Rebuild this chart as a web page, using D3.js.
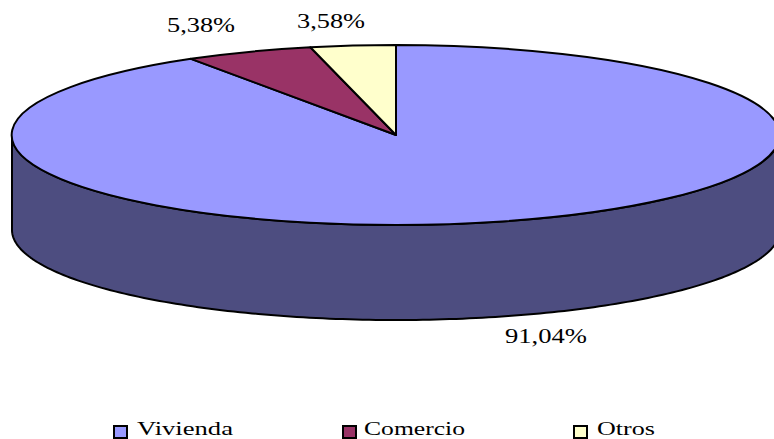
<!DOCTYPE html>
<html><head><meta charset="utf-8">
<script src="https://cdnjs.cloudflare.com/ajax/libs/d3/7.8.5/d3.min.js"></script>
<style>html,body{margin:0;padding:0;background:#fff}svg{display:block}
text{font-family:"Liberation Serif",serif;font-size:20px;fill:#000}
text.t{font-size:19px}</style></head>
<body><svg id="c" width="774" height="439"></svg>
<script>
const categories=["Vivienda","Comercio","Otros"];
const values=[91.04,5.38,3.58];
const valueLabels=["91,04%","5,38%","3,58%"];
const colors=["#9999ff","#993366","#ffffcc"];
const sideColor="#4d4d80";

const cx=396,cy=135,rx=384,ry=90,depth=95;
const svg=d3.select("#c");
const pie=d3.pie().sort(null).value(d=>d)(values);
const unit=d3.arc().innerRadius(0).outerRadius(1);
const x=t=>cx+rx*Math.sin(t), y=t=>cy-ry*Math.cos(t);

// front wall of the cylinder: visible half of the rim, extruded downwards
const front=d3.range(90,270.01,1).map(d=>d*Math.PI/180);
const wall=d3.area().x(x).y0(y).y1(t=>y(t)+depth);
svg.append("path").attr("d",wall(front)).attr("fill",sideColor)
  .attr("stroke","#000").attr("stroke-width",2).attr("stroke-linejoin","round");

// top face
const topFace=svg.append("g").attr("transform",`translate(${cx},${cy}) scale(${rx},${ry})`);
topFace.selectAll("path").data(pie).join("path")
  .attr("d",unit).attr("fill",(d,i)=>colors[i])
  .attr("stroke","#000").attr("stroke-width",2).attr("stroke-linejoin","round")
  .attr("vector-effect","non-scaling-stroke");

// data labels
const labelPos=[[505,343,82],[167,32,68],[297,28,68]];
svg.selectAll("text.v").data(valueLabels).join("text").attr("class","v")
  .attr("x",(d,i)=>labelPos[i][0]).attr("y",(d,i)=>labelPos[i][1])
  .attr("textLength",(d,i)=>labelPos[i][2]).attr("lengthAdjust","spacingAndGlyphs")
  .text(d=>d);

// legend
const legendX=[114,343,574],legendTextX=[137,364,597],legendTextW=[96,101,58];
const lg=svg.selectAll("g.l").data(categories).join("g").attr("class","l");
lg.append("rect").attr("x",(d,i)=>legendX[i]).attr("y",426).attr("width",13).attr("height",12)
  .attr("fill",(d,i)=>colors[i]).attr("stroke","#000").attr("stroke-width",2);
lg.append("text").attr("class","t").attr("x",(d,i)=>legendTextX[i]).attr("y",434.7)
  .attr("textLength",(d,i)=>legendTextW[i]).attr("lengthAdjust","spacingAndGlyphs").text(d=>d);
</script></body></html>
